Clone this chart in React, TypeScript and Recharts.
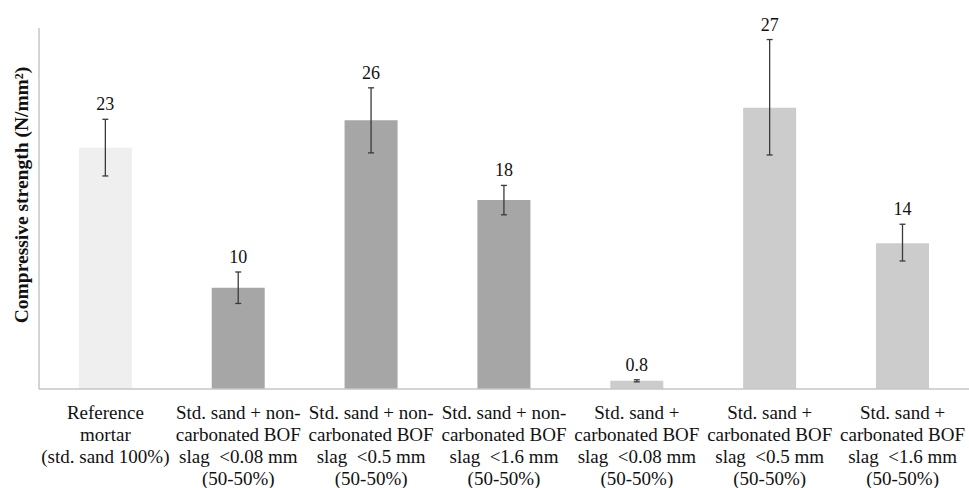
import { BarChart, Bar, XAxis, YAxis, Cell, ErrorBar, LabelList } from 'recharts';

const categories = [
  ['Reference', 'mortar', '(std. sand 100%)'],
  ['Std. sand + non-', 'carbonated BOF', 'slag  <0.08 mm', '(50-50%)'],
  ['Std. sand + non-', 'carbonated BOF', 'slag  <0.5 mm', '(50-50%)'],
  ['Std. sand + non-', 'carbonated BOF', 'slag  <1.6 mm', '(50-50%)'],
  ['Std. sand +', 'carbonated BOF', 'slag  <0.08 mm', '(50-50%)'],
  ['Std. sand +', 'carbonated BOF', 'slag  <0.5 mm', '(50-50%)'],
  ['Std. sand +', 'carbonated BOF', 'slag  <1.6 mm', '(50-50%)'],
];
const strength = [23, 9.65, 25.6, 18, 0.78, 26.8, 13.9];
const valueLabels = ['23', '10', '26', '18', '0.8', '27', '14'];
// [minus, plus]
const errors: [number, number][] = [
  [2.7, 2.7],
  [1.5, 1.5],
  [3.1, 3.1],
  [1.4, 1.4],
  [0.1, 0.1],
  [4.5, 6.5],
  [1.7, 1.8],
];
const barColors = ['#efefef', '#a6a6a6', '#a6a6a6', '#a6a6a6', '#cccccc', '#cccccc', '#cccccc'];

const data = categories.map((c, i) => ({
  name: c.join(' '),
  value: strength[i],
  err: errors[i],
  label: valueLabels[i],
}));

const FONT = 'Liberation Serif, Times New Roman, serif';

function CategoryTick(props: any) {
  const { x, y, index } = props;
  const lines = categories[index] || [];
  return (
    <text x={x} y={y + 22} textAnchor="middle" style={{ fontFamily: FONT, fontSize: 19 }} fill="#111">
      {lines.map((l: string, i: number) => (
        <tspan key={i} x={x} dy={i === 0 ? 0 : 22} style={{ whiteSpace: 'pre' }}>
          {l}
        </tspan>
      ))}
    </text>
  );
}

function ValueLabel(props: any) {
  const { x, y, width, height, index } = props;
  const v = strength[index];
  const px = v ? height / v : 0;
  const top = y - errors[index][1] * px;
  return (
    <text x={x + width / 2} y={top - 9} textAnchor="middle" style={{ fontFamily: FONT, fontSize: 18 }} fill="#111">
      {valueLabels[index]}
    </text>
  );
}

function AxisTitle() {
  return (
    <text
      transform="translate(28,195) rotate(-90)"
      textAnchor="middle"
      style={{ fontFamily: FONT, fontSize: 19.5, fontWeight: 'bold' }}
      fill="#111"
    >
      Compressive strength (N/mm²)
    </text>
  );
}

export default function App() {
  return (
    <div style={{ position: 'absolute', left: 0, top: 0, background: '#fff' }}>
      <BarChart
        width={969}
        height={488}
        data={data}
        margin={{ top: 28, right: 0, left: 0, bottom: 0 }}
        barCategoryGap="30%"
      >
        <XAxis
          dataKey="name"
          interval={0}
          tickLine={false}
          axisLine={{ stroke: '#c6c6c6', strokeWidth: 1.5 }}
          tick={<CategoryTick />}
          height={99}
        />
        <YAxis
          width={39}
          domain={[0, 34.4]}
          tick={false}
          tickLine={false}
          axisLine={{ stroke: '#c6c6c6', strokeWidth: 1.5 }}
          label={<AxisTitle />}
        />
        <Bar dataKey="value" isAnimationActive={false}>
          {data.map((d, i) => (
            <Cell key={d.name} fill={barColors[i]} />
          ))}
          <ErrorBar dataKey="err" width={3} stroke="#3a3a3a" strokeWidth={1.3} direction="y" />
          <LabelList dataKey="label" content={<ValueLabel />} />
        </Bar>
      </BarChart>
    </div>
  );
}
